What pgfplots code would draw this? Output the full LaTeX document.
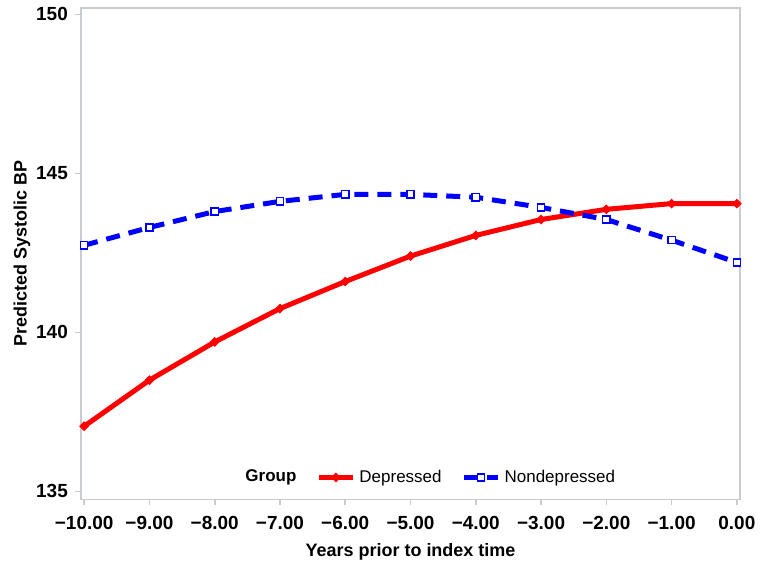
\documentclass[border=0pt]{standalone}
\usepackage{pgfplots}
\pgfplotsset{compat=1.18}
\usepackage{fontspec}
\setmainfont{Liberation Sans}

\definecolor{sasred}{RGB}{255,0,0}
\definecolor{sasblue}{RGB}{0,0,255}
\definecolor{frame}{RGB}{200,203,208}

\begin{document}
\begin{tikzpicture}
\begin{axis}[
  scale only axis, width=330pt, height=246pt,
  xmin=-10.05, xmax=0.05, ymin=134.75, ymax=150.2,
  axis line style={draw=frame, line width=0.8pt},
  tick style={draw=frame, line width=0.8pt},
  tick align=outside, tick pos=left, major tick length=3pt,
  xtick={-10,-9,...,0},
  xticklabels={−10.00,−9.00,−8.00,−7.00,−6.00,−5.00,−4.00,−3.00,−2.00,−1.00,0.00},
  ytick={135,140,145,150},
  yticklabels={135,140,145,150},
  ticklabel style={font=\fontsize{9.5}{11}\selectfont\bfseries},
  xticklabel shift=2pt,
  ylabel shift=-4pt,
  xlabel={Years prior to index time},
  ylabel={Predicted Systolic BP},
  label style={font=\fontsize{9}{11}\selectfont\bfseries},
  legend style={at={(0.53,0.012)}, anchor=south, draw=none, fill=none,
    font=\fontsize{8.5}{10}\selectfont,
    /tikz/every even column/.append style={column sep=8pt}},
  legend columns=-1,
]
\addlegendimage{empty legend}
\addlegendentry{\textbf{Group}}

\addplot[sasred, line width=2.5pt, mark=*, mark size=0.7pt] coordinates {
  (-10,137.05) (-9,138.5) (-8,139.7) (-7,140.75) (-6,141.6) (-5,142.4)
  (-4,143.05) (-3,143.55) (-2,143.87) (-1,144.05) (0,144.05)
};
\addlegendentry{Depressed}

\addplot[sasblue, line width=2.5pt, dash pattern=on 7pt off 4.5pt,
  mark=square*, mark size=1.8pt,
  mark options={solid, fill=white, draw=sasblue, line width=0.7pt}] coordinates {
  (-10,142.74) (-9,143.3) (-8,143.8) (-7,144.12) (-6,144.34) (-5,144.34)
  (-4,144.25) (-3,143.93) (-2,143.55) (-1,142.9) (0,142.2)
};
\addlegendentry{Nondepressed}
\end{axis}
\path (current axis.south west) ++(-40.5pt,-32.5pt) rectangle ([xshift=10.5pt,yshift=4pt]current axis.north east);
\end{tikzpicture}
\end{document}
